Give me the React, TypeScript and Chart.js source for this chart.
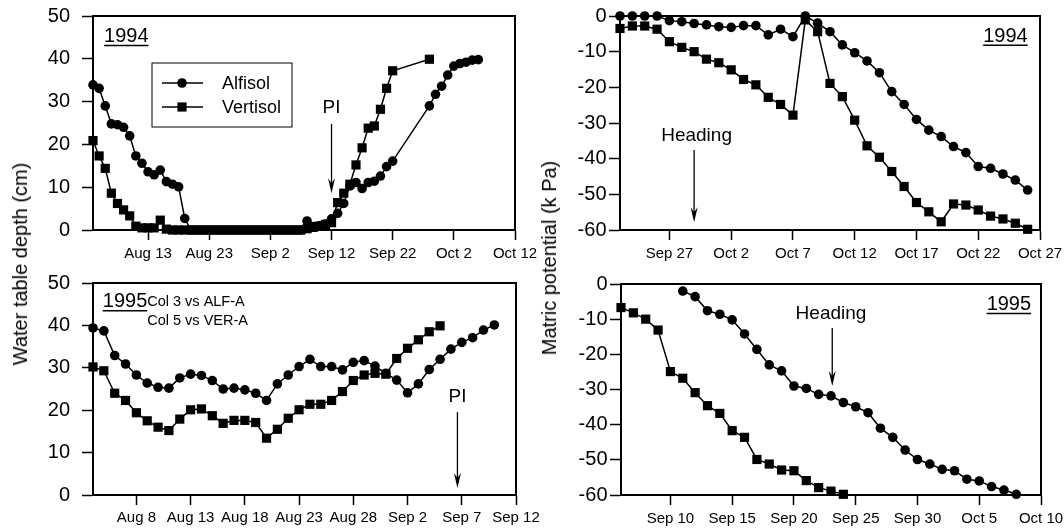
import React, { useEffect, useRef } from "react";
import { Chart, registerables } from "chart.js";

Chart.register(...registerables);

const FONT = "'Liberation Sans', Arial, Helvetica, sans-serif";

// ---------- Panel A: water table depth 1994 (x = days after Aug 4) ----------
const wt94TickDays = [9, 19, 29, 39, 49, 59, 69];
const wt94TickLabels = ["Aug 13", "Aug 23", "Sep 2", "Sep 12", "Sep 22", "Oct 2", "Oct 12"];
const wt94AlfisolDays = [
  0, 1, 2, 3, 4, 5, 6, 7, 8, 9, 10, 11, 12, 13, 14, 15, 16, 17, 18, 19,
  20, 21, 22, 23, 24, 25, 26, 27, 28, 29, 30, 31, 32, 33, 34, 35, 36, 37, 38, 39,
  40, 41, 42, 43, 44, 45, 46, 47, 48, 49, 55, 56, 57, 58, 59, 60, 61, 62, 63,
];
const wt94AlfisolDepth = [
  33.9, 33.1, 29.0, 24.8, 24.6, 24.0, 22.0, 17.3, 15.6, 13.6,
  12.9, 14.0, 11.3, 10.7, 10.1, 2.7, 0, 0, 0, 0,
  0, 0, 0, 0, 0, 0, 0, 0, 0, 0,
  0, 0, 0, 0, 0, 2.1, 0.8, 1.0, 1.4, 2.6,
  3.9, 6.2, 10.3, 11.1, 9.7, 11.1, 11.4, 12.6, 14.8, 16.1,
  29.0, 31.7, 33.6, 36.2, 38.3, 38.9, 39.2, 39.7, 39.8,
];
const wt94VertisolDays = [
  0, 1, 2, 3, 4, 5, 6, 7, 8, 9, 10, 11, 12, 13, 14, 15, 16, 17, 18, 19,
  20, 21, 22, 23, 24, 25, 26, 27, 28, 29, 30, 31, 32, 33, 34, 35, 36, 37, 38, 39,
  40, 41, 42, 43, 44, 45, 46, 47, 48, 49, 55,
];
const wt94VertisolDepth = [
  20.9, 17.3, 14.4, 8.6, 6.2, 4.7, 3.3, 0.9, 0.5, 0.5,
  0.5, 2.3, 0.2, 0, 0, 0, 0, 0, 0, 0,
  0, 0, 0, 0, 0, 0, 0, 0, 0, 0,
  0, 0, 0, 0, 0, 0.3, 0.6, 0.9, 1.3, 1.7,
  6.4, 8.6, 10.7, 15.2, 19.2, 23.8, 24.3, 28.2, 33.1, 37.2,
  39.9,
];

// ---------- Panel B: matric potential 1994 (x = days after Sep 23) ----------
const mp94TickDays = [4, 9, 14, 19, 24, 29, 34];
const mp94TickLabels = ["Sep 27", "Oct 2", "Oct 7", "Oct 12", "Oct 17", "Oct 22", "Oct 27"];
const mp94Days = [
  0, 1, 2, 3, 4, 5, 6, 7, 8, 9, 10, 11, 12, 13, 14, 15, 16,
  17, 18, 19, 20, 21, 22, 23, 24, 25, 26, 27, 28, 29, 30, 31, 32, 33,
];
const mp94Alfisol = [
  0, 0, 0, 0, -1.3, -1.6, -2.1, -2.5, -3.0, -3.2, -2.7, -2.7, -5.3, -3.7, -5.8, 0, -2.0,
  -4.4, -8.1, -10.3, -12.6, -15.9, -21.2, -24.8, -29.0, -32.0, -33.8, -36.6, -38.3, -42.2, -42.7, -44.3, -46.0, -48.8,
];
const mp94Vertisol = [
  -3.5, -2.8, -2.8, -3.7, -7.2, -8.8, -10.0, -12.1, -13.1, -15.1, -17.8, -19.3, -22.8, -24.8, -27.8, -1.1, -4.4,
  -18.9, -22.6, -29.2, -36.4, -39.6, -43.6, -47.8, -52.3, -54.9, -57.7, -52.7, -53.0, -54.4, -56.1, -56.9, -58.1, -59.8,
];

// ---------- Panel C: water table depth 1995 (x = days after Aug 4) ----------
const wt95TickDays = [4, 9, 14, 19, 24, 29, 34, 39];
const wt95TickLabels = ["Aug 8", "Aug 13", "Aug 18", "Aug 23", "Aug 28", "Sep 2", "Sep 7", "Sep 12"];
const wt95AlfisolDays = [
  0, 1, 2, 3, 4, 5, 6, 7, 8, 9, 10, 11, 12, 13, 14, 15, 16, 17, 18, 19,
  20, 21, 22, 23, 24, 25, 26, 27, 28, 29, 30, 31, 32, 33, 34, 35, 36, 37,
];
const wt95AlfisolDepth = [
  39.4, 38.7, 32.9, 30.9, 28.3, 26.4, 25.4, 25.2, 27.6, 28.5,
  28.2, 27.0, 25.0, 25.2, 24.8, 24.0, 22.3, 26.2, 28.3, 30.3,
  32.0, 30.3, 30.3, 29.5, 31.3, 31.7, 30.4, 28.7, 27.1, 24.1,
  26.2, 29.6, 32.0, 34.4, 36.0, 37.1, 38.9, 40.1,
];
const wt95VertisolDays = [
  0, 1, 2, 3, 4, 5, 6, 7, 8, 9, 10, 11, 12, 13, 14, 15, 16, 17, 18, 19,
  20, 21, 22, 23, 24, 25, 26, 27, 28, 29, 30, 31, 32,
];
const wt95VertisolDepth = [
  30.2, 29.3, 24.0, 22.3, 19.4, 17.5, 16.0, 15.2, 17.9, 20.1,
  20.3, 18.7, 16.9, 17.6, 17.6, 17.1, 13.4, 15.5, 18.1, 20.1,
  21.4, 21.4, 22.3, 24.4, 27.0, 28.3, 28.7, 28.5, 32.2, 34.6,
  36.6, 38.5, 39.9,
];

// ---------- Panel D: matric potential 1995 (x = days after Sep 6) ----------
const mp95TickDays = [4, 9, 14, 19, 24, 29, 34];
const mp95TickLabels = ["Sep 10", "Sep 15", "Sep 20", "Sep 25", "Sep 30", "Oct 5", "Oct 10"];
const mp95AlfisolDays = [
  5, 6, 7, 8, 9, 10, 11, 12, 13, 14, 15, 16, 17, 18, 19, 20, 21, 22, 23, 24,
  25, 26, 27, 28, 29, 30, 31, 32,
];
const mp95Alfisol = [
  -2.0, -3.6, -7.6, -8.6, -10.2, -14.2, -18.6, -23.0, -24.7, -29.0,
  -29.7, -31.4, -31.8, -33.7, -34.9, -36.6, -41.0, -43.6, -47.2, -49.9,
  -51.2, -52.7, -53.1, -55.5, -56.0, -57.6, -58.6, -59.8,
];
const mp95VertisolDays = [0, 1, 2, 3, 4, 5, 6, 7, 8, 9, 10, 11, 12, 13, 14, 15, 16, 17, 18];
const mp95Vertisol = [
  -6.7, -8.2, -10.0, -13.1, -24.9, -26.8, -30.9, -34.6, -36.8, -41.7,
  -43.6, -49.9, -51.2, -52.9, -53.1, -55.9, -57.9, -58.9, -59.8,
];

const legendNames = ["Alfisol", "Vertisol"];

type Marker = "circle" | "rect";
type Series = { days: number[]; values: number[]; marker: Marker };
type TextItem = { x: number; y: number; text: string; size: number; align: CanvasTextAlign; underline?: boolean };
type PanelSpec = {
  area: { l: number; t: number; r: number; b: number };
  xMin: number; xMax: number; tickDays: number[]; tickLabels: string[];
  yMin: number; yMax: number;
  yPad: number; xPad: number;
  series: Series[];
  arrows: { x: number; y1: number; y2: number }[];
  texts: TextItem[];
  legend?: { dx: number; dy: number; w: number; h: number };
};

const YW = 80;
const XH = 40;
const PT = 30;
const PR = 40;

function drawMarker(ctx: CanvasRenderingContext2D, m: Marker, x: number, y: number) {
  ctx.beginPath();
  if (m === "circle") {
    ctx.arc(x, y, 4.8, 0, Math.PI * 2);
  } else {
    ctx.rect(x - 4.6, y - 4.6, 9.2, 9.2);
  }
  ctx.fill();
}

function Panel({ spec }: { spec: PanelSpec }) {
  const ref = useRef<HTMLCanvasElement>(null);
  const w = YW + (spec.area.r - spec.area.l) + PR;
  const h = PT + (spec.area.b - spec.area.t) + XH;

  useEffect(() => {
    const annot = {
      id: "annot",
      afterDraw(chart: any) {
        const { ctx, chartArea: a, scales } = chart;
        const xs = scales.x;
        const ys = scales.y;
        ctx.save();
        ctx.strokeStyle = "#000";
        ctx.fillStyle = "#000";
        ctx.lineWidth = 2;
        ctx.strokeRect(a.left, a.top, a.right - a.left, a.bottom - a.top);
        for (const ar of spec.arrows) {
          const px = xs.getPixelForValue(ar.x);
          const p1 = ys.getPixelForValue(ar.y1);
          const p2 = ys.getPixelForValue(ar.y2);
          ctx.lineWidth = 1.3;
          ctx.beginPath();
          ctx.moveTo(px, p1);
          ctx.lineTo(px, p2 - 6);
          ctx.stroke();
          ctx.beginPath();
          ctx.moveTo(px, p2);
          ctx.lineTo(px - 3.5, p2 - 15);
          ctx.lineTo(px, p2 - 10);
          ctx.lineTo(px + 3.5, p2 - 15);
          ctx.closePath();
          ctx.fill();
        }
        ctx.textBaseline = "alphabetic";
        for (const t of spec.texts) {
          ctx.font = `${t.size}px ${FONT}`;
          ctx.textAlign = t.align;
          const px = xs.getPixelForValue(t.x);
          const py = ys.getPixelForValue(t.y);
          ctx.fillText(t.text, px, py);
          if (t.underline) {
            const tw = ctx.measureText(t.text).width;
            const x0 = t.align === "right" ? px - tw : t.align === "center" ? px - tw / 2 : px;
            ctx.lineWidth = 1.5;
            ctx.beginPath();
            ctx.moveTo(x0, py + 3.5);
            ctx.lineTo(x0 + tw, py + 3.5);
            ctx.stroke();
          }
        }
        if (spec.legend) {
          const L = spec.legend;
          const bx = a.left + L.dx;
          const by = a.top + L.dy;
          ctx.lineWidth = 1;
          ctx.strokeRect(bx, by, L.w, L.h);
          ctx.font = `18px ${FONT}`;
          ctx.textAlign = "left";
          ctx.textBaseline = "middle";
          spec.series.forEach((s, i) => {
            const ly = by + 20 + i * 24;
            ctx.lineWidth = 1.5;
            ctx.beginPath();
            ctx.moveTo(bx + 10, ly);
            ctx.lineTo(bx + 51, ly);
            ctx.stroke();
            drawMarker(ctx, s.marker, bx + 30, ly);
            ctx.fillText(legendNames[i], bx + 70, ly + 1);
          });
        }
        ctx.restore();
      },
    };

    const chart = new Chart(ref.current as HTMLCanvasElement, {
      type: "scatter",
      data: {
        datasets: spec.series.map((s, i) => ({
          label: legendNames[i],
          data: s.days.map((d, j) => ({ x: d, y: s.values[j] })),
          showLine: true,
          borderColor: "#000",
          borderWidth: 1.5,
          backgroundColor: "#000",
          pointStyle: s.marker,
          pointRadius: s.marker === "rect" ? 6.5 : 4.8,
          pointBorderWidth: 0,
          pointBackgroundColor: "#000",
          pointHoverRadius: s.marker === "rect" ? 6.5 : 4.8,
          tension: 0,
          clip: false as any,
        })),
      },
      options: {
        responsive: false,
        animation: false,
        devicePixelRatio: 1,
        events: [],
        layout: { padding: { left: 0, top: PT, right: PR, bottom: 0 } },
        plugins: { legend: { display: false }, tooltip: { enabled: false } },
        scales: {
          x: {
            type: "linear",
            min: spec.xMin,
            max: spec.xMax,
            afterBuildTicks: (axis: any) => {
              axis.ticks = spec.tickDays.map((v) => ({ value: v }));
            },
            afterFit: (axis: any) => {
              axis.height = XH;
            },
            ticks: {
              autoSkip: false,
              maxRotation: 0,
              padding: spec.xPad,
              color: "#000",
              font: { family: FONT, size: 15 },
              callback: (_v: any, idx: number) => spec.tickLabels[idx],
            },
            grid: { drawOnChartArea: false, drawTicks: true, tickLength: 10, tickWidth: 1.5, tickColor: "#000" },
            border: { display: true, color: "#000", width: 2 },
          },
          y: {
            type: "linear",
            min: spec.yMin,
            max: spec.yMax,
            afterFit: (axis: any) => {
              axis.width = YW;
            },
            ticks: {
              stepSize: 10,
              padding: spec.yPad,
              color: "#000",
              font: { family: FONT, size: 20 },
            },
            grid: { drawOnChartArea: false, drawTicks: true, tickLength: 11, tickWidth: 1.5, tickColor: "#000" },
            border: { display: true, color: "#000", width: 2 },
          },
        },
      } as any,
      plugins: [annot],
    } as any);
    return () => chart.destroy();
  }, []);

  return (
    <canvas
      ref={ref}
      width={w}
      height={h}
      style={{ position: "absolute", left: spec.area.l - YW, top: spec.area.t - PT, width: w, height: h }}
    />
  );
}

const panels: PanelSpec[] = [
  {
    area: { l: 93, t: 16, r: 515, b: 230 },
    xMin: 0, xMax: 69, tickDays: wt94TickDays, tickLabels: wt94TickLabels,
    yMin: 0, yMax: 50, yPad: 12, xPad: 5,
    series: [
      { days: wt94AlfisolDays, values: wt94AlfisolDepth, marker: "circle" },
      { days: wt94VertisolDays, values: wt94VertisolDepth, marker: "rect" },
    ],
    arrows: [{ x: 39, y1: 24.8, y2: 8.6 }],
    texts: [
      { x: 1.8, y: 43.9, text: "1994", size: 20, align: "left", underline: true },
      { x: 39, y: 27.3, text: "PI", size: 19, align: "center" },
    ],
    legend: { dx: 59, dy: 47, w: 140, h: 64 },
  },
  {
    area: { l: 620, t: 16, r: 1040, b: 230 },
    xMin: 0, xMax: 34, tickDays: mp94TickDays, tickLabels: mp94TickLabels,
    yMin: -60, yMax: 0, yPad: 2.5, xPad: 4.5,
    series: [
      { days: mp94Days, values: mp94Alfisol, marker: "circle" },
      { days: mp94Days, values: mp94Vertisol, marker: "rect" },
    ],
    arrows: [{ x: 6, y1: -37.6, y2: -57.8 }],
    texts: [
      { x: 33.0, y: -7.2, text: "1994", size: 20, align: "right", underline: true },
      { x: 6.2, y: -35.0, text: "Heading", size: 19, align: "center" },
    ],
  },
  {
    area: { l: 93, t: 283, r: 516, b: 495 },
    xMin: 0, xMax: 39, tickDays: wt95TickDays, tickLabels: wt95TickLabels,
    yMin: 0, yMax: 50, yPad: 12, xPad: 3.5,
    series: [
      { days: wt95AlfisolDays, values: wt95AlfisolDepth, marker: "circle" },
      { days: wt95VertisolDays, values: wt95VertisolDepth, marker: "rect" },
    ],
    arrows: [{ x: 33.6, y1: 19.6, y2: 1.65 }],
    texts: [
      { x: 0.9, y: 44.3, text: "1995", size: 20, align: "left", underline: true },
      { x: 5.0, y: 44.5, text: "Col 3 vs ALF-A", size: 14.5, align: "left" },
      { x: 5.0, y: 40.0, text: "Col 5 vs VER-A", size: 14.5, align: "left" },
      { x: 33.6, y: 21.9, text: "PI", size: 19, align: "center" },
    ],
  },
  {
    area: { l: 621, t: 284, r: 1041, b: 495 },
    xMin: 0, xMax: 34, tickDays: mp95TickDays, tickLabels: mp95TickLabels,
    yMin: -60, yMax: 0, yPad: 2.5, xPad: 5,
    series: [
      { days: mp95AlfisolDays, values: mp95Alfisol, marker: "circle" },
      { days: mp95VertisolDays, values: mp95Vertisol, marker: "rect" },
    ],
    arrows: [{ x: 17.1, y1: -12.5, y2: -29.0 }],
    texts: [
      { x: 33.2, y: -7.4, text: "1995", size: 20, align: "right", underline: true },
      { x: 17.0, y: -10.0, text: "Heading", size: 19, align: "center" },
    ],
  },
];

const titleStyle: React.CSSProperties = {
  position: "absolute",
  transform: "translate(-50%, -50%) rotate(-90deg)",
  font: `20px ${FONT}`,
  lineHeight: 1,
  whiteSpace: "nowrap",
  color: "#000",
};

export default function App() {
  return (
    <div
      style={{
        position: "fixed",
        left: 0,
        top: 0,
        width: 1064,
        height: 530,
        overflow: "hidden",
        background: "#fff",
      }}
    >
      {panels.map((p, i) => (
        <Panel key={i} spec={p} />
      ))}
      <div style={{ ...titleStyle, left: 20, top: 264 }}>Water table depth (cm)</div>
      <div style={{ ...titleStyle, left: 549, top: 258 }}>Matric potential (k Pa)</div>
    </div>
  );
}
